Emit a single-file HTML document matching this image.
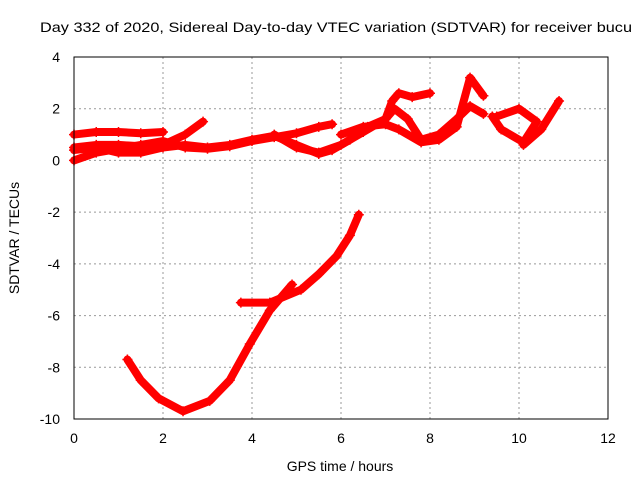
<!DOCTYPE html>
<html><head><meta charset="utf-8"><style>
body{margin:0;background:#fff}
svg text{font-family:"Liberation Sans",sans-serif;font-size:14px;fill:#000}
</style></head><body>
<svg id="chart" width="640" height="480">
<text x="40" y="32" textLength="592" lengthAdjust="spacingAndGlyphs">Day 332 of 2020, Sidereal Day-to-day VTEC variation (SDTVAR) for receiver bucu</text>
<text x="340" y="471" text-anchor="middle">GPS time / hours</text>
<text transform="translate(19,238) rotate(-90)" text-anchor="middle">SDTVAR / TECUs</text>
<g id="grid"></g><g id="marks"></g>
<rect x="74" y="57" width="534" height="362" fill="none" stroke="#000"/>
</svg>
<script>
const xTicks=[0,2,4,6,8,10,12];
const yTicks=[4,2,0,-2,-4,-6,-8,-10];
const sA=[[0,1.0],[0.5,1.1],[1,1.1],[1.5,1.05],[2,1.1]];
const sB=[[0,0.5],[0.5,0.6],[1,0.6],[1.5,0.55],[2,0.6],[2.5,1.0],[2.9,1.5]];
const sC=[[0,0],[0.5,0.3],[1,0.45],[1.5,0.6],[2,0.75],[2.5,0.5],[3,0.45],[3.5,0.55],[4,0.75],[4.5,0.9],[5,1.05],[5.5,1.3],[5.8,1.4]];
const sD=[[0,0.4],[0.5,0.5],[1,0.3],[1.5,0.3],[2,0.5],[2.5,0.6],[3,0.5],[3.5,0.6],[4,0.8],[4.5,0.95],[5,0.6],[5.5,0.25],[5.8,0.4],[6.2,0.8],[6.6,1.3],[7,1.6],[7.15,2.3],[7.3,2.6],[7.6,2.45],[8,2.6]];
const sE=[[4.5,1.0],[5,0.5],[5.5,0.3],[6,0.6],[6.5,1.1],[7,1.6],[7.2,2.0],[7.5,1.6],[7.8,0.8],[8.2,1.0],[8.6,1.6],[8.9,2.1],[9.2,1.8]];
const sF=[[6,1.0],[6.5,1.3],[7,1.4],[7.3,1.2],[7.8,0.7],[8.2,0.8],[8.6,1.3],[8.9,3.2],[9.2,2.5]];
const sG=[[9.5,1.7],[10,2.0],[10.4,1.5],[10.1,0.7],[9.6,1.2],[9.4,1.7]];
const sH=[[10.1,0.6],[10.5,1.2],[10.9,2.3]];
const sI=[[1.2,-7.7],[1.5,-8.5],[1.9,-9.2],[2.45,-9.7],[3.05,-9.3],[3.5,-8.5],[3.95,-7.1],[4.4,-5.8],[4.9,-4.8]];
const sJ=[[3.75,-5.5],[4.4,-5.5],[5.1,-5.0],[5.5,-4.4],[5.9,-3.7],[6.2,-2.9],[6.4,-2.1]];
const series=[sA,sB,sC,sD,sE,sF,sG,sH,sI,sJ];
const X=t=>74+t*534/12, Y=v=>57+(4-v)*362/14;
const NS="http://www.w3.org/2000/svg";
const grid=document.getElementById('grid'), marks=document.getElementById('marks');
function mk(tag,at,parent){const e=document.createElementNS(NS,tag);for(const k in at)e.setAttribute(k,at[k]);parent.appendChild(e);return e;}
xTicks.forEach(t=>{
 if(t>0&&t<12){const l=mk('line',{x1:X(t),x2:X(t),y1:57,y2:419,stroke:'#999','stroke-dasharray':'2,3'},grid);
 
 }
 const tx=mk('text',{x:X(t),y:443,'text-anchor':'middle'},grid);tx.textContent=t;
 
 
});
yTicks.forEach(v=>{
 if(v<4&&v>-10){const l=mk('line',{x1:74,x2:608,y1:Y(v),y2:Y(v),stroke:'#999','stroke-dasharray':'2,3'},grid);
 
 }
 const tx=mk('text',{x:60,y:Y(v)+5,'text-anchor':'end'},grid);tx.textContent=v;
 
 
});
series.forEach((s,i)=>{
 const g=mk('g',{},marks);
 
 
 mk('polyline',{points:s.map(p=>X(p[0])+','+Y(p[1])).join(' '),fill:'none',stroke:'#f00','stroke-width':8,'stroke-linejoin':'round','stroke-linecap':'round'},g);
 s.forEach(p=>{const x=X(p[0]),y=Y(p[1]);
  const m=mk('path',{d:`M${x-5},${y}H${x+5}M${x},${y-5}V${y+5}`,stroke:'#f00','stroke-width':1.5},g);
  
  
 });
});
</script>
</body></html>
